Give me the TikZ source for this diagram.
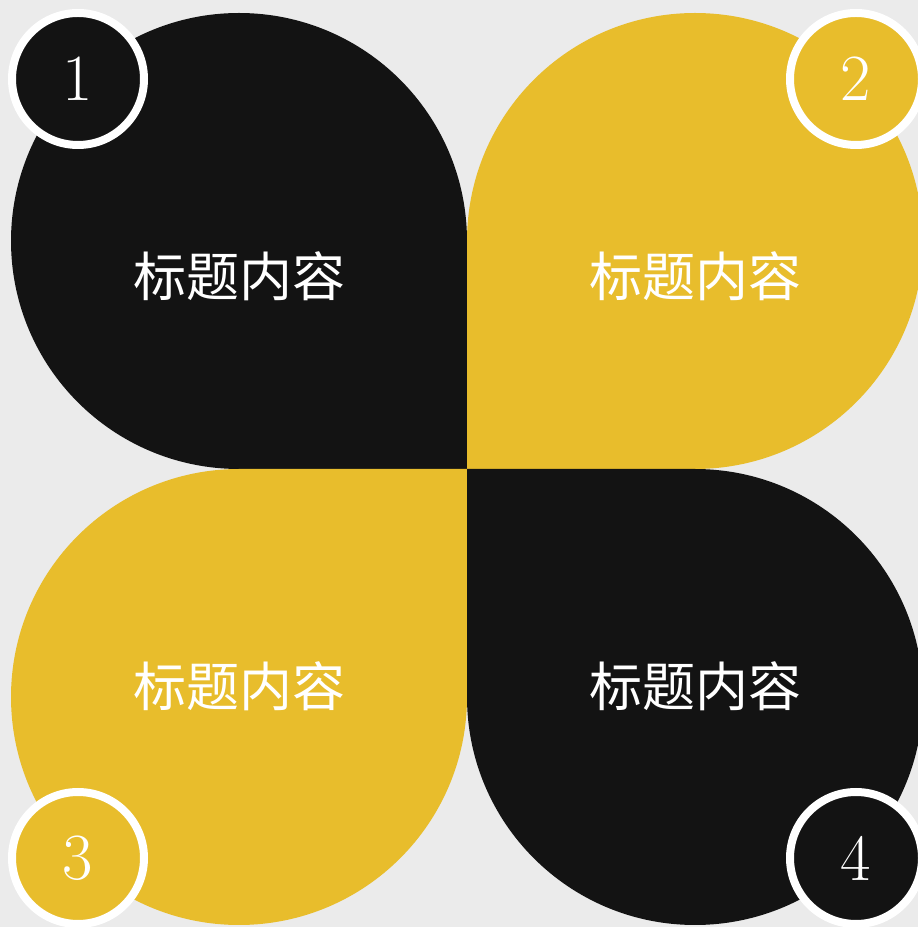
\documentclass[tikz,border=0pt]{standalone}
\usepackage{fontspec}
\newfontfamily\cjk{Noto Sans CJK SC}
\definecolor{bg}{HTML}{EBEBEB}
\definecolor{petalblack}{HTML}{131313}
\definecolor{petalyellow}{HTML}{E8BD2C}
\tikzset{
  petaltext/.style={text=white, font=\cjk\fontsize{53}{53}\selectfont, inner sep=0pt},
  numdisc/.style={circle, draw=white, line width=8pt, minimum size=132pt, inner sep=0pt,
    text=white, font=\fontsize{66}{66}\selectfont},
}
\begin{document}
\begin{tikzpicture}[x=1pt,y=1pt]
  \fill[bg] (0,0) rectangle (918,927);
  \useasboundingbox (0,0) rectangle (918,927);
  \begin{scope}
    \clip (0,0) rectangle (918,927);
    % top-left petal
    \fill[petalblack] (467,458) -- (239,458) arc[start angle=270, end angle=180, radius=228]
      arc[start angle=180, end angle=90, radius=228]
      arc[start angle=90, end angle=0, radius=228] -- cycle;
    % top-right petal
    \fill[petalyellow] (467,458) -- (695,458) arc[start angle=270, end angle=360, radius=228]
      arc[start angle=0, end angle=90, radius=228]
      arc[start angle=90, end angle=180, radius=228] -- cycle;
    % bottom-left petal
    \fill[petalyellow] (467,458) -- (239,458) arc[start angle=90, end angle=180, radius=228]
      arc[start angle=180, end angle=270, radius=228]
      arc[start angle=270, end angle=360, radius=228] -- cycle;
    % bottom-right petal
    \fill[petalblack] (467,458) -- (695,458) arc[start angle=90, end angle=0, radius=228]
      arc[start angle=0, end angle=-90, radius=228]
      arc[start angle=-90, end angle=-180, radius=228] -- cycle;
    % number discs
    \node[numdisc, fill=petalblack] (n1) at (78,848) {\raisebox{-2pt}{1}};
    \node[numdisc, fill=petalyellow] (n2) at (856,848) {\raisebox{-2pt}{2}};
    \node[numdisc, fill=petalyellow] (n3) at (78,69) {\raisebox{-2pt}{3}};
    \node[numdisc, fill=petalblack] (n4) at (856,69) {\raisebox{-2pt}{4}};
  \end{scope}
  \node[petaltext] (t1) at (239,651) {标题内容};
  \node[petaltext] (t2) at (695,651) {标题内容};
  \node[petaltext] (t3) at (239,241) {标题内容};
  \node[petaltext] (t4) at (695,241) {标题内容};
\end{tikzpicture}
\end{document}
